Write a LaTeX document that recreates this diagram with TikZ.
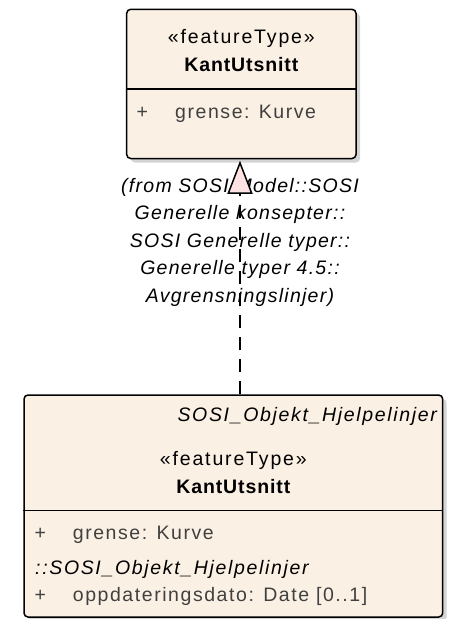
\documentclass[tikz,border=0pt]{standalone}
\usepackage{fontspec}
\setmainfont{Liberation Sans}[LetterSpace=8]
\usetikzlibrary{arrows.meta,shadows}
\definecolor{boxfill}{HTML}{FBF0E4}
\definecolor{tripink}{HTML}{FDE3E3}
\definecolor{attrgray}{HTML}{404040}
\definecolor{shadowgray}{HTML}{D4D4D4}
\tikzset{
  umlbox/.style={draw=black, line width=1.5pt, fill=boxfill, rounded corners=4pt,
    inner sep=0pt, general shadow={fill=shadowgray, shadow xshift=4pt, shadow yshift=-4pt}},
  txt/.style={inner sep=0pt, font=\fontsize{19.5}{23}\selectfont, anchor=base},
  stereo/.style={txt, text=black, font=\fontsize{19.5}{23}\selectfont\addfontfeature{LetterSpace=9.5}},
  title/.style={txt, text=black, font=\fontsize{19.5}{23}\selectfont\bfseries\addfontfeature{LetterSpace=4.5}},
  attr/.style={txt, text=attrgray, anchor=base west},
  pkg/.style={txt, text=attrgray, font=\fontsize{19.5}{23}\selectfont\itshape\addfontfeature{LetterSpace=8.5}},
  divider/.style={draw=black, line width=1.5pt},
  realize/.style={draw=black, line width=1.5pt, dash pattern=on 13pt off 9pt,
    -{Triangle[length=33pt,width=25pt,fill=tripink,line width=1.5pt]}},
  fromlbl/.style={inner sep=0pt, align=center, text=black,
    font=\fontsize{19.5}{27.5}\selectfont\itshape\addfontfeature{LetterSpace=6.5}}
}
\begin{document}
\begin{tikzpicture}[x=1pt,y=-1pt]
\useasboundingbox (0,0) rectangle (450,619);
% top class
\node[umlbox, minimum width=229.3pt, minimum height=149.2pt] (top) at (241.35,83.9) {};
\draw[divider] (top.west |- 0,89) -- (top.east |- 0,89);
\node[stereo] (topst) at (241.35,43.3) {«featureType»};
\node[title] (topname) at (241.35,71) {KantUtsnitt};
\node[attr] (topplus) at (136.5,118.3) {+};
\node[attr] (topattr) at (175,118.3) {grense: Kurve};
% bottom class
\node[umlbox, minimum width=418.7pt, minimum height=222pt] (bot) at (233.35,506) {};
\draw[divider] (bot.west |- 0,510.7) -- (bot.east |- 0,510.7);
\node[pkg, anchor=base east, text=black] (botpkg) at (437,421.7) {SOSI\_Objekt\_Hjelpelinjer};
\node[stereo] (botst) at (233.35,465) {«featureType»};
\node[title] (botname) at (233.35,493.3) {KantUtsnitt};
\node[attr] (botplus1) at (34.5,539.3) {+};
\node[attr] (botattr1) at (72.7,539.3) {grense: Kurve};
\node[pkg, anchor=base west, text=black] (botinh) at (35,574) {::SOSI\_Objekt\_Hjelpelinjer};
\node[attr] (botplus2) at (34.5,601.7) {+};
\node[attr] (botattr2) at (72.7,601.7) {oppdateringsdato: Date [0..1]};
% label
\node[fromlbl, anchor=north] (lbl) at (240,178) {(from SOSI Model::SOSI\\Generelle konsepter::\\SOSI Generelle typer::\\Generelle typer 4.5::\\Avgrensningslinjer)};
% realization
\coordinate (cx) at (240,0);
\draw[realize] (bot.north -| cx) -- ([yshift=-1.5pt]top.south -| cx);
\end{tikzpicture}
\end{document}
